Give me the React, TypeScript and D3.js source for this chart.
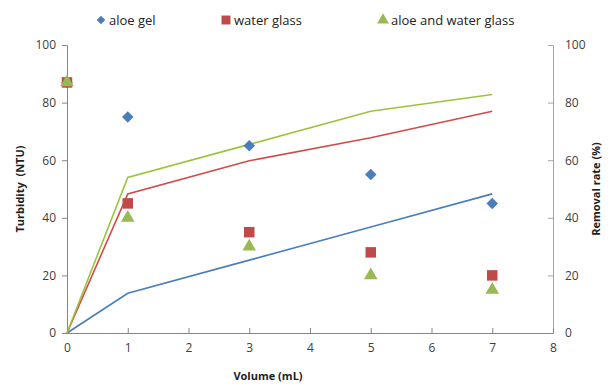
import React, { useEffect, useRef } from "react";
import * as d3 from "d3";

// volumes (mL)
const volumes = [0, 1, 3, 5, 7];
// turbidity (NTU), plotted as markers on the left axis
const aloeGel = [87, 75, 65, 55, 45];
const waterGlass = [87, 45, 35, 28, 20];
const aloeWater = [87, 40, 30, 20, 15];
// removal rate (%), plotted as lines on the right axis
const aloeGelRate = [0, 13.8, 25.3, 36.8, 48.3];
const waterGlassRate = [0, 48.3, 59.8, 67.8, 77];
const aloeWaterRate = [0, 54, 65.5, 77, 82.8];

const xTicks = [0, 1, 2, 3, 4, 5, 6, 7, 8];
const yTicks = [0, 20, 40, 60, 80, 100];

const series = [
  { name: "aloe gel", turb: aloeGel, rate: aloeGelRate, color: "#4a7ebb", line: "#4a7ebb", shape: "diamond" },
  { name: "water glass", turb: waterGlass, rate: waterGlassRate, color: "#be4b48", line: "#d44a4a", shape: "square" },
  { name: "aloe and water glass", turb: aloeWater, rate: aloeWaterRate, color: "#98b954", line: "#9cc43c", shape: "triangle" },
];

const W = 611, H = 385;
const margin = { top: 45, right: 58, bottom: 52, left: 67 };

// marker path: diamond is a square turned 45 degrees
function markerPath(shape: string, size: number) {
  if (shape === "triangle") return d3.symbol().type(d3.symbolTriangle).size(size)()!;
  return d3.symbol().type(d3.symbolSquare).size(size)()!;
}

export default function App() {
  const ref = useRef<SVGSVGElement>(null);

  useEffect(() => {
    const svg = d3.select(ref.current);
    svg.selectAll("*").remove();
    const font = "'Open Sans', 'Liberation Sans', sans-serif";

    const x = d3.scaleLinear().domain([0, 8]).range([margin.left, W - margin.right]);
    const yL = d3.scaleLinear().domain([0, 100]).range([H - margin.bottom, margin.top]);
    const yR = d3.scaleLinear().domain([0, 100]).range([H - margin.bottom, margin.top]);

    svg.append("rect").attr("width", W).attr("height", H).attr("fill", "#fff");

    // left axis
    const gl = svg.append("g")
      .attr("transform", `translate(${margin.left},0)`)
      .call(d3.axisLeft(yL).tickValues(yTicks).tickSize(5).tickPadding(6));
    gl.select(".domain").attr("stroke", "#868686");
    gl.selectAll(".tick line").attr("stroke", "#868686");
    gl.selectAll(".tick text").attr("font-family", font).attr("font-size", 12).attr("fill", "#404040");

    // right axis (ticks inside)
    const gr = svg.append("g")
      .attr("transform", `translate(${W - margin.right},0)`)
      .call(d3.axisRight(yR).tickValues(yTicks).tickSizeInner(-5).tickSizeOuter(0).tickPadding(12));
    gr.select(".domain").attr("stroke", "#a6a6a6");
    gr.selectAll(".tick line").attr("stroke", "#a6a6a6");
    gr.selectAll(".tick text").attr("font-family", font).attr("font-size", 12).attr("fill", "#404040");

    // bottom axis (ticks inside)
    const gb = svg.append("g")
      .attr("transform", `translate(0,${H - margin.bottom})`)
      .call(d3.axisBottom(x).tickValues(xTicks).tickSizeInner(-5).tickSizeOuter(0).tickPadding(10));
    gb.select(".domain").attr("stroke", "#868686");
    gb.selectAll(".tick line").attr("stroke", "#868686");
    gb.selectAll(".tick text").attr("font-family", font).attr("font-size", 12).attr("fill", "#404040");

    // lines
    series.forEach((s) => {
      const line = d3.line<number>()
        .x((_, i) => x(volumes[i]))
        .y((d) => yR(d));
      svg.append("path")
        .datum(s.rate)
        .attr("d", line)
        .attr("fill", "none")
        .attr("stroke", s.line)
        .attr("stroke-width", 1.6);
    });

    // markers
    const markerSize: Record<string, number> = { diamond: 66, square: 110, triangle: 80 };
    series.forEach((s) => {
      svg.append("g").selectAll("path")
        .data(s.turb)
        .enter().append("path")
        .attr("d", markerPath(s.shape, markerSize[s.shape]))
        .attr("transform", (d, i) =>
          `translate(${x(volumes[i])},${yL(d)})` + (s.shape === "diamond" ? " rotate(45)" : ""))
        .attr("fill", s.color);
    });

    // axis titles
    svg.append("text")
      .attr("transform", `translate(24,${(margin.top + H - margin.bottom) / 2}) rotate(-90)`)
      .attr("text-anchor", "middle")
      .attr("font-family", font).attr("font-size", 11).attr("font-weight", "bold")
      .attr("fill", "#222")
      .attr("xml:space", "preserve")
      .text("Turbidity  (NTU)");
    svg.append("text")
      .attr("transform", `translate(600,${(margin.top + H - margin.bottom) / 2}) rotate(-90)`)
      .attr("text-anchor", "middle")
      .attr("font-family", font).attr("font-size", 11).attr("font-weight", "bold")
      .attr("fill", "#222")
      .text("Removal rate (%)");
    svg.append("text")
      .attr("x", 268).attr("y", 380)
      .attr("text-anchor", "middle")
      .attr("font-family", font).attr("font-size", 11).attr("font-weight", "bold")
      .attr("fill", "#222")
      .text("Volume (mL)");

    // legend
    const legendX = [101, 226, 383];
    const legendSize: Record<string, number> = { diamond: 38, square: 80, triangle: 60 };
    series.forEach((s, i) => {
      const g = svg.append("g").attr("transform", `translate(${legendX[i]},20)`);
      g.append("path")
        .attr("d", markerPath(s.shape, legendSize[s.shape]))
        .attr("transform", s.shape === "diamond" ? "rotate(45)" : null)
        .attr("fill", s.color);
      g.append("text")
        .attr("x", 8).attr("y", 4.5)
        .attr("font-family", font).attr("font-size", 13)
        .attr("fill", "#222")
        .text(s.name);
    });
  }, []);

  return (
    <svg ref={ref} width={W} height={H} style={{ position: "absolute", left: 0, top: 0 }} />
  );
}
